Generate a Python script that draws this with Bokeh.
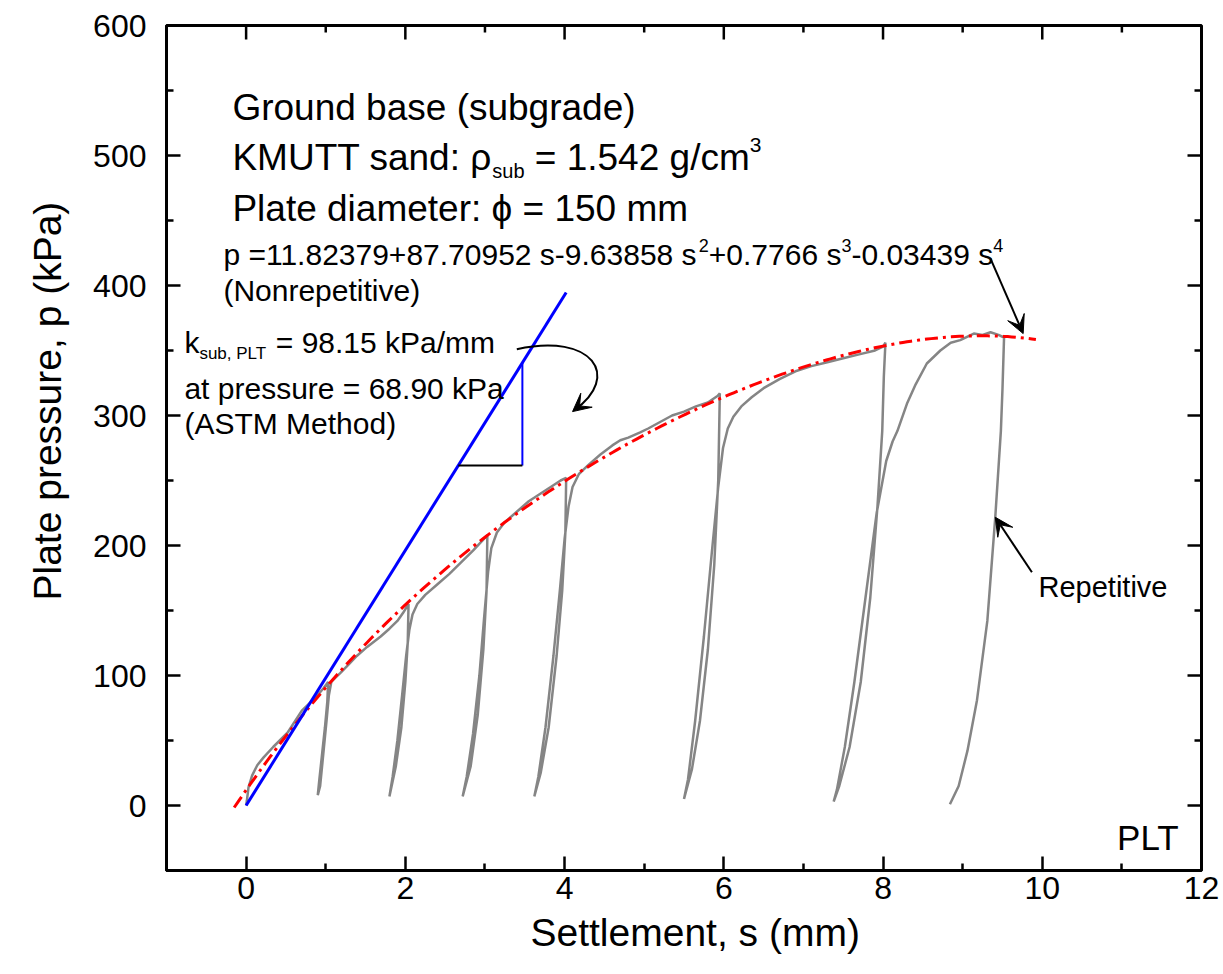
from bokeh.plotting import figure
from bokeh.models import Range1d, Label, Arrow, VeeHead, FixedTicker, Title
from bokeh.embed import file_html
from bokeh.resources import INLINE

FONT = "Liberation Sans"

# ---- data -------------------------------------------------------------
# measured (repetitive) plate load test curve: settlement (mm), pressure (kPa)
gray_s = [0.00, 0.01, 0.03, 0.075, 0.14, 0.22, 0.34, 0.52, 0.70, 0.87, 0.97, 1.03,
          1.02, 0.99, 0.955, 0.92, 0.90,
          0.93, 0.97, 1.01, 1.04, 1.07, 1.10, 1.185, 1.28, 1.39, 1.52, 1.69, 1.80, 1.90, 1.97, 2.04,
          2.03, 2.00, 1.95, 1.88, 1.80,
          1.84, 1.90, 1.96, 2.01, 2.05, 2.09, 2.15, 2.25, 2.40, 2.55, 2.70, 2.85, 2.97, 3.03,
          3.02, 2.98, 2.91, 2.82, 2.72,
          2.77, 2.85, 2.93, 2.99, 3.04, 3.08, 3.15, 3.25, 3.40, 3.55, 3.70, 3.85, 3.95, 4.02,
          4.01, 3.97, 3.90, 3.80, 3.70, 3.62,
          3.67, 3.76, 3.86, 3.94, 4.00, 4.05, 4.10, 4.18, 4.30, 4.45, 4.60, 4.70, 4.80, 4.95,
          5.05, 5.20, 5.35, 5.50, 5.65, 5.80, 5.92, 5.95,
          5.93, 5.88, 5.80, 5.70, 5.60, 5.50,
          5.55, 5.64, 5.75, 5.85, 5.93, 5.99, 6.05, 6.12, 6.22, 6.35, 6.50, 6.70, 6.90, 7.10,
          7.30, 7.50, 7.70, 7.90, 8.00, 8.03,
          8.01, 7.99, 7.93, 7.84, 7.72, 7.58, 7.45, 7.38,
          7.42, 7.52, 7.64, 7.78, 7.92, 8.04, 8.12, 8.18, 8.30, 8.41, 8.55, 8.72, 8.85, 8.97,
          9.14, 9.25, 9.35, 9.45, 9.52,
          9.50, 9.48, 9.41, 9.31, 9.18, 9.06, 8.95, 8.84]
gray_p = [0, 4, 14, 23, 31, 37, 45, 56, 73, 83, 90, 95,
          80, 60, 40, 20, 8,
          15, 40, 65, 85, 95, 97, 102, 108, 115, 122, 130, 136, 142, 148, 155,
          125, 95, 60, 30, 7,
          22, 50, 85, 115, 135, 147, 155, 162, 170, 178, 187, 196, 204, 208,
          165, 120, 70, 30, 7,
          22, 55, 100, 145, 180, 198, 210, 218, 226, 234, 240, 246, 250, 252,
          210, 165, 115, 60, 25, 7,
          22, 60, 115, 165, 205, 230, 245, 255, 262, 270, 277, 281, 283, 287,
          290, 295, 300, 303, 307, 310, 315, 317,
          250, 185, 120, 65, 28, 5,
          20, 65, 130, 195, 245, 275, 290, 299, 307, 314, 321, 328, 334, 338,
          341, 344, 347, 350, 353, 356,
          330, 288, 230, 160, 95, 45, 15, 3,
          12, 45, 95, 160, 225, 265, 280, 288, 309, 324, 340, 350, 356, 358,
          363, 362, 364, 362, 360,
          320, 288, 222, 142, 81, 42, 15, 1]

# fitted nonrepetitive curve, coefficients as printed on the chart
fit_coef = [11.82379, 87.70952, -9.63858, 0.7766, -0.03439]
fit_s_min, fit_s_max = -0.15, 9.92

# ASTM secant modulus line
k_sub = 98.15
k_line_s = [0.0, 4.02]
tri_s = [2.665, 3.47]      # horizontal leg (black)
tri_p = [261.5, 341.0]     # vertical leg (blue)

x_ticks = [0, 2, 4, 6, 8, 10, 12]
x_minor = [-1, 1, 3, 5, 7, 9, 11]
y_ticks = [0, 100, 200, 300, 400, 500, 600]
y_minor = [-50, 50, 150, 250, 350, 450, 550]

x_title = "Settlement, s (mm)"
y_title = "Plate pressure, p (kPa)"

# ---- figure -----------------------------------------------------------
X0, X1, Y0, Y1 = -1, 12, -50, 600
FRAME_W, FRAME_H = 1035, 845
p = figure(width=1219, height=972, x_range=Range1d(X0, X1), y_range=Range1d(Y0, Y1),
           output_backend="svg", toolbar_location=None,
           min_border_left=166, min_border_right=18, min_border_top=25, min_border_bottom=102)
p.xgrid.visible = False
p.ygrid.visible = False
p.outline_line_color = "black"
p.outline_line_width = 3
p.background_fill_color = "white"
p.border_fill_color = "white"

PX_X = (X1 - X0) / FRAME_W   # data units per pixel
PX_Y = (Y1 - Y0) / FRAME_H


def style(ax):
    ax.axis_line_width = 3
    ax.axis_line_color = "black"
    ax.major_tick_line_width = 2.5
    ax.minor_tick_line_width = 2.5
    ax.major_tick_in = 14
    ax.major_tick_out = 0
    ax.minor_tick_in = 7
    ax.minor_tick_out = 0
    ax.major_label_text_font = FONT
    ax.major_label_text_color = "black"
    ax.major_label_text_font_size = "32px"


xax = p.xaxis[0]
xax.ticker = FixedTicker(ticks=x_ticks, minor_ticks=x_minor)
style(xax)
xax.major_label_standoff = 6

yax = p.yaxis[0]
yax.ticker = FixedTicker(ticks=y_ticks, minor_ticks=y_minor)
style(yax)
yax.major_label_standoff = 20

# axis titles, placed as in the original (off-centre)
title_kw = dict(text_font=FONT, text_font_size="39px", text_font_style="normal",
                text_color="black", align="left")
p.add_layout(Title(text=x_title, offset=364, standoff=14, **title_kw), "below")
p.add_layout(Title(text=y_title, offset=270, standoff=44, **title_kw), "left")

# inward ticks on the top and right frame edges
tick_kw = dict(line_color="black", line_width=2.5)
p.segment(x_ticks, [Y1] * 7, x_ticks, [Y1 - 14 * PX_Y] * 7, **tick_kw)
p.segment(x_minor, [Y1] * 7, x_minor, [Y1 - 7 * PX_Y] * 7, **tick_kw)
p.segment([X1] * 7, y_ticks, [X1 - 14 * PX_X] * 7, y_ticks, **tick_kw)
p.segment([X1] * 7, y_minor, [X1 - 7 * PX_X] * 7, y_minor, **tick_kw)

# ---- glyphs -----------------------------------------------------------
p.line(gray_s, gray_p, line_color="#858585", line_width=2.5)

n = 200
fit_s = [fit_s_min + (fit_s_max - fit_s_min) * i / (n - 1) for i in range(n)]
fit_p = [sum(c * s ** k for k, c in enumerate(fit_coef)) for s in fit_s]
p.line(fit_s, fit_p, line_color="red", line_width=3, line_dash="13 5 3 5")

p.line(k_line_s, [k_sub * s for s in k_line_s], line_color="blue", line_width=3)
p.line([tri_s[1], tri_s[1]], tri_p, line_color="blue", line_width=2)
p.line(tri_s, [tri_p[0], tri_p[0]], line_color="black", line_width=2)

# curved arrow
p.bezier(x0=[3.40], y0=[351], cx0=[4.35], cy0=[364], cx1=[4.72], cy1=[330],
         x1=[4.12], y1=[304], line_color="black", line_width=2)
head = dict(size=18, fill_color="black", line_color="black")
p.add_layout(Arrow(end=VeeHead(**head), x_start=4.14, y_start=305.0, x_end=4.10, y_end=303.0,
                   line_color="black", line_width=2))
# straight arrows
p.add_layout(Arrow(end=VeeHead(**head), x_start=9.35, y_start=420.7, x_end=9.76, y_end=363.0,
                   line_color="black", line_width=2))
p.add_layout(Arrow(end=VeeHead(**head), x_start=9.87, y_start=179.4, x_end=9.41, y_end=221.7,
                   line_color="black", line_width=2))

# ---- texts ------------------------------------------------------------
# Arial / Liberation Sans advance widths (1/1000 em) used to chain sub/superscripts
ADV = {" ": 278, ",": 278, "-": 333, ".": 278, "/": 278, "=": 584, "+": 584, ":": 278,
       "a": 556, "b": 556, "c": 500, "d": 556, "g": 556, "k": 500, "m": 833, "n": 556,
       "p": 556, "s": 500, "u": 556, "K": 667, "L": 556, "M": 833, "P": 667, "T": 611,
       "U": 722, "\u03c1": 577}


def width(text, size):
    return sum(ADV.get(c, 556) for c in text) * size / 1000.0 * PX_X


def lab(x, y, text, size, **kw):
    opts = dict(text_font=FONT, text_font_size=f"{size}px", text_color="black",
                text_baseline="alphabetic", text_align="left")
    opts.update(kw)
    p.add_layout(Label(x=x, y=y, text=text, **opts))


def rich(x, y, parts):
    """parts: (text, size, baseline shift in px); leading spaces become offsets"""
    for text, size, shift in parts:
        stripped = text.lstrip(" ")
        x += width(text[:len(text) - len(stripped)], size)
        lab(x, y + shift * PX_Y, stripped, size)
        x += width(stripped, size)


X_TXT1 = -0.172
lab(X_TXT1, 537.1, "Ground base (subgrade)", 37)
rich(X_TXT1, 498.6, [("KMUTT sand: \u03c1", 37, 0), ("sub", 20, -14), (" = 1.542 g/cm", 37, 0),
                     ("3", 21, 12)])
lab(X_TXT1, 459.4, "Plate diameter: \u03d5 = 150 mm", 37)

X_TXT2 = -0.285
rich(X_TXT2, 423.9, [("p =11.82379+87.70952 s-9.63858 s", 30, 0), ("2", 18, 9),
                     ("+0.7766 s", 30, 0), ("3", 18, 9), ("-0.03439 s", 30, 0), ("4", 18, 9)])
lab(X_TXT2, 396.2, "(Nonrepetitive)", 30)

X_TXT3 = -0.775
rich(X_TXT3, 356.2, [("k", 30, 0), ("sub, PLT", 17, -11), (" = 98.15 kPa/mm", 30, 0)])
lab(X_TXT3, 320.8, "at pressure = 68.90 kPa", 30)
lab(X_TXT3, 293.9, "(ASTM Method)", 30)

lab(9.953, 168.4, "Repetitive", 29)
lab(10.94, -24.6, "PLT", 35)

open("out.html", "w").write(file_html(p, INLINE))
